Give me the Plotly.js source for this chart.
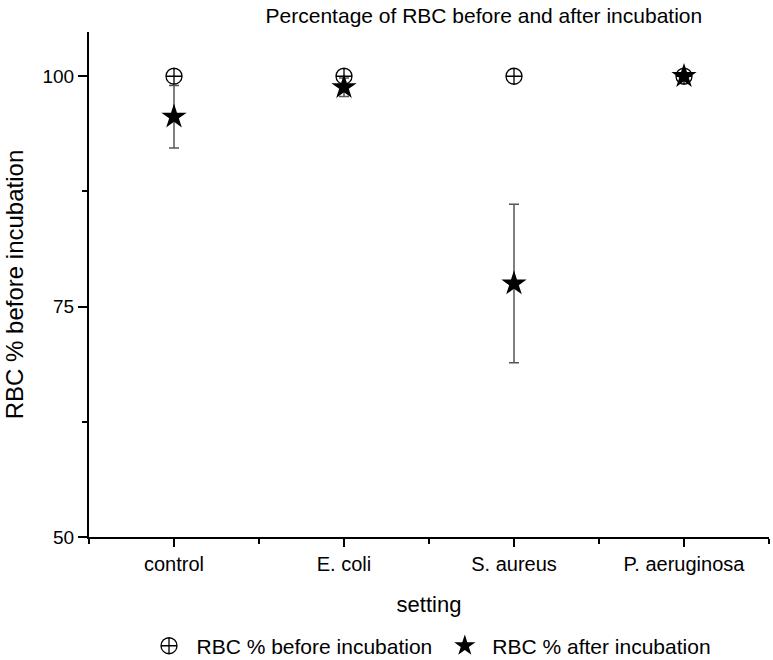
<!DOCTYPE html>
<html>
<head>
<meta charset="utf-8">
<script src="https://cdn.plot.ly/plotly-3.0.1.min.js"></script>
<style>html,body{margin:0;padding:0;background:#fff;}#chart{width:773px;height:660px;}</style>
</head>
<body>
<div id="chart"></div>
<script>
const categories = ["control", "E. coli", "S. aureus", "P. aeruginosa"];
const beforeValues = [100, 100, 100, 100];
const afterValues = [95.6, 98.8, 77.5, 100];
const afterErrors = [3.4, 1.0, 8.6, 0];
const yTickVals = [50, 75, 100];
const yTickText = ["50", "75", "100"];

const font = "Liberation Sans, Arial, Helvetica, sans-serif";

const traces = [
  {
    type: "scatter", mode: "markers", name: "RBC % before incubation",
    x: categories, y: beforeValues,
    marker: {symbol: "circle-cross-open", size: 16, color: "#000", line: {width: 1.3, color: "#000"}}
  },
  {
    type: "scatter", mode: "markers", name: "RBC % after incubation",
    x: categories, y: afterValues,
    error_y: {type: "data", array: afterErrors, visible: true, color: "#555", thickness: 1.5, width: 5},
    marker: {symbol: "star", size: 19, color: "#000", line: {width: 0}}
  }
];

const layout = {
  width: 773, height: 660,
  margin: {l: 89, r: 4, t: 32, b: 123, autoexpand: false},
  paper_bgcolor: "#fff", plot_bgcolor: "#fff",
  font: {family: font, color: "#000", size: 16},
  title: {text: "Percentage of RBC before and after incubation", font: {size: 21, family: font}, xref: "container", x: 0.626, xanchor: "center", y: 0.977, yanchor: "middle"},
  showlegend: true,
  legend: {orientation: "h", x: 0.5, xanchor: "center", y: -0.216, yanchor: "middle", font: {size: 21}, itemwidth: 45},
  xaxis: {
    type: "category", range: [-0.5, 3.5], showgrid: false, zeroline: false, automargin: false,
    showline: true, linecolor: "#000", linewidth: 2,
    ticks: "outside", ticklen: 8, tickwidth: 2, tickcolor: "#000",
    tickfont: {size: 20},
    minor: {tickmode: "array", tickvals: [-0.5, 0.5, 1.5, 2.5, 3.5], ticks: "outside", ticklen: 5, tickwidth: 2, tickcolor: "#000"},
    title: {text: "setting", font: {size: 22}, standoff: 23}
  },
  yaxis: {
    range: [50, 104.8], showgrid: false, zeroline: false, automargin: false,
    showline: true, linecolor: "#000", linewidth: 2,
    tickmode: "array", tickvals: yTickVals, ticktext: yTickText,
    ticks: "outside", ticklen: 9, tickwidth: 2, tickcolor: "#000",
    tickfont: {size: 19},
    minor: {tickmode: "array", tickvals: [62.5, 87.5], ticks: "outside", ticklen: 5, tickwidth: 2, tickcolor: "#000"},
    title: {text: "RBC % before incubation", font: {size: 24}, standoff: 12}
  }
};

Plotly.newPlot("chart", traces, layout, {displayModeBar: false, staticPlot: true});
</script>
</body>
</html>
